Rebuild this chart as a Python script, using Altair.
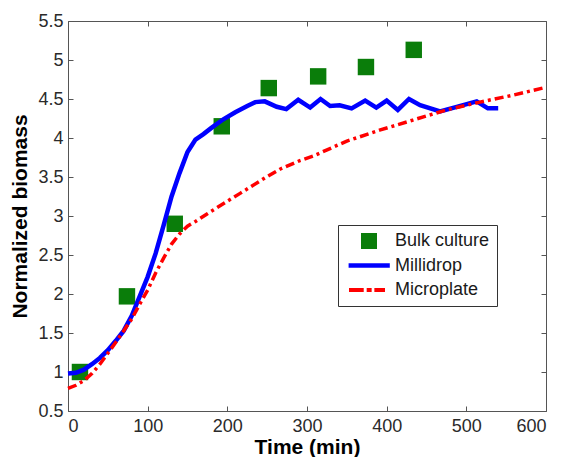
import altair as alt
import pandas as pd

# ---- data ----
bulk_t = [15, 74, 134, 193, 252, 314, 374, 434]
bulk_y = [1.00, 1.97, 2.90, 4.15, 4.64, 4.79, 4.91, 5.13]

milli_t = [0, 10, 20, 30, 40, 50, 60, 70, 80, 90, 100, 110, 120, 130, 140, 150,
           160, 170, 180, 195, 210, 225, 235, 247, 262, 274, 289, 304, 317, 329,
           341, 356, 373, 387, 400, 414, 428, 442, 467, 488, 513, 527, 540]
milli_y = [0.98, 0.99, 1.03, 1.10, 1.18, 1.28, 1.40, 1.53, 1.72, 1.97, 2.22, 2.52,
           2.88, 3.25, 3.55, 3.82, 3.98, 4.05, 4.13, 4.24, 4.33, 4.41, 4.46, 4.47,
           4.40, 4.37, 4.49, 4.39, 4.50, 4.41, 4.42, 4.38, 4.48, 4.39, 4.48, 4.36,
           4.50, 4.42, 4.34, 4.40, 4.47, 4.38, 4.38]

micro_t = [0, 10, 20, 30, 40, 50, 60, 70, 80, 90, 100, 110, 120, 130, 140, 150,
           160, 175, 200, 216, 249, 266, 291, 308, 350, 391, 433, 475, 517, 559, 600]
micro_y = [0.79, 0.83, 0.89, 0.98, 1.10, 1.24, 1.38, 1.53, 1.68, 1.87, 2.05, 2.27,
           2.46, 2.64, 2.77, 2.87, 2.93, 3.03, 3.19, 3.29, 3.50, 3.60, 3.71, 3.77,
           3.96, 4.10, 4.23, 4.36, 4.46, 4.55, 4.65]

series_names = ["Bulk culture", "Millidrop", "Microplate"]
x_ticks = [0, 100, 200, 300, 400, 500, 600]
y_ticks = [0.5, 1, 1.5, 2, 2.5, 3, 3.5, 4, 4.5, 5, 5.5]

# ---- styles ----
GREEN, BLUE, RED = "#0a7d0a", "#0000ff", "#ff0000"
FONT = "Liberation Sans"
SQUARE = "M-1,-1H1V1H-1Z"
SOLID = "M-2.55,-0.28H2.6V0.28H-2.55Z"
DASHDOT = ("M-2.5,-0.25H-0.66V0.25H-2.5Z M-0.29,-0.25H0.33V0.25H-0.29Z "
           "M0.67,-0.25H2.0V0.25H0.67Z")

bulk = pd.DataFrame({"t": bulk_t, "y": bulk_y, "series": series_names[0]})
milli = pd.DataFrame({"t": milli_t, "y": milli_y})
micro = pd.DataFrame({"t": micro_t, "y": micro_y})

x_scale = alt.Scale(domain=[0, 600], nice=False, zero=False)
y_scale = alt.Scale(domain=[0.5, 5.5], nice=False, zero=False)

common = dict(domain=False, grid=False, ticks=True, tickSize=5, offset=-5,
              tickColor="#555555", tickWidth=1, labelFont=FONT, labelFontSize=18,
              labelColor="#2a2a2a", titleFont=FONT, titleColor="#000000",
              titleFontWeight="bold")

x_bottom = alt.Axis(orient="bottom", values=x_ticks, format="~f", labelPadding=6,
                    title="Time (min)", titleFontSize=21, titlePadding=1, **common)
y_left = alt.Axis(orient="left", values=y_ticks, format="~f", labelPadding=5,
                  title="Normalized biomass", titleFontSize=21, titlePadding=7, **common)
x_top = alt.Axis(orient="top", values=x_ticks, labels=False, title=None, **common)
y_right = alt.Axis(orient="right", values=y_ticks, labels=False, title=None, **common)

points = alt.Chart(bulk).mark_point(filled=True, opacity=1, size=270, strokeWidth=0).encode(
    x=alt.X("t:Q", scale=x_scale, axis=x_bottom),
    y=alt.Y("y:Q", scale=y_scale, axis=y_left),
    color=alt.Color("series:N",
                    scale=alt.Scale(domain=series_names, range=[GREEN, BLUE, RED]),
                    legend=alt.Legend(title=None, orient="none", legendX=270, legendY=204,
                                      strokeColor="#333333", padding=7,
                                      symbolSize=256, symbolStrokeWidth=0,
                                      symbolOpacity=1, symbolOffset=15,
                                      labelFont=FONT,
                                      labelFontSize=18, labelColor="#1a1a1a",
                                      labelOffset=17, rowPadding=6.5,
                                      fillColor="#ffffff")),
    shape=alt.Shape("series:N",
                    scale=alt.Scale(domain=series_names, range=[SQUARE, SOLID, DASHDOT]),
                    legend=alt.Legend(title=None, orient="none", legendX=270, legendY=204)),
)

blue_line = alt.Chart(milli).mark_line(color=BLUE, strokeWidth=4.5).encode(
    x=alt.X("t:Q", scale=x_scale, axis=x_top),
    y=alt.Y("y:Q", scale=y_scale, axis=y_right),
)

red_line = alt.Chart(micro).mark_line(color=RED, strokeWidth=3.5,
                                      strokeDash=[9, 4, 3, 4]).encode(
    x=alt.X("t:Q", scale=x_scale, axis=None),
    y=alt.Y("y:Q", scale=y_scale, axis=None),
)

chart = alt.layer(points, blue_line, red_line).resolve_axis(
    x="independent", y="independent"
).properties(
    width=478, height=390,
    autosize=alt.AutoSizeParams(type="none"),
    padding={"left": 60, "top": 13, "right": 8, "bottom": 46},
).configure_view(stroke="#555555", strokeWidth=1)

chart.save("out.html", embed_options={"renderer": "svg", "actions": False})
